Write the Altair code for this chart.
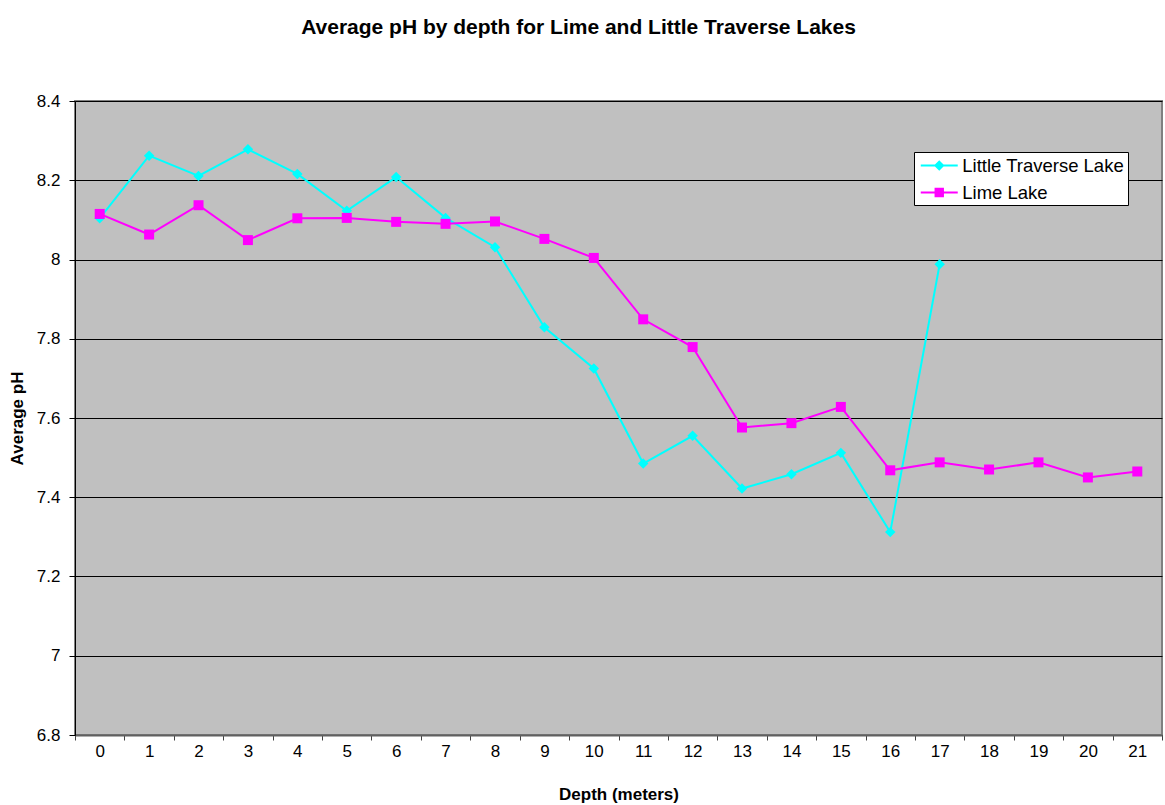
import altair as alt
import pandas as pd

# ---- data ----
depth_little = list(range(18))
ph_little = [8.104, 8.262, 8.211, 8.278, 8.216, 8.123, 8.208, 8.105, 8.031,
             7.829, 7.725, 7.485, 7.555, 7.422, 7.458, 7.512, 7.312, 7.988]
depth_lime = list(range(22))
ph_lime = [8.115, 8.063, 8.137, 8.049, 8.104, 8.105, 8.095, 8.090, 8.096,
           8.052, 8.004, 7.849, 7.779, 7.576, 7.587, 7.628, 7.468, 7.488,
           7.470, 7.488, 7.450, 7.465]
series_names = ["Little Traverse Lake", "Lime Lake"]
series_colors = ["#00FFFF", "#FF00FF"]
y_ticks = [6.8, 7.0, 7.2, 7.4, 7.6, 7.8, 8.0, 8.2, 8.4]
x_edges = [-0.5, 0.5, 1.5, 2.5, 3.5, 4.5, 5.5, 6.5, 7.5, 8.5, 9.5, 10.5,
           11.5, 12.5, 13.5, 14.5, 15.5, 16.5, 17.5, 18.5, 19.5, 20.5, 21.5]

df_little = pd.DataFrame({"depth": depth_little, "ph": ph_little, "series": series_names[0]})
df_lime = pd.DataFrame({"depth": depth_lime, "ph": ph_lime, "series": series_names[1]})
df = pd.concat([df_little, df_lime], ignore_index=True)

# legend symbols: a line segment with a (stroke-filled) marker on it
def diamond_path(rs):
    return "M-2,0H2" + "".join(f"M0,-{r}L{r},0L0,{r}L-{r},0Z" for r in rs)

def square_path(rs):
    return "M-2,0H2" + "".join(f"M-{r},-{r}H{r}V{r}H-{r}Z" for r in rs)

legend_shapes = [diamond_path([0.42, 0.3, 0.18, 0.06]),
                 square_path([0.4, 0.28, 0.16, 0.04])]

FONT = "Liberation Sans"
W, H = 1087, 634
step = W / 22.0

x_enc = alt.X(
    "depth:Q",
    scale=alt.Scale(domain=[-0.5, 21.5], nice=False, zero=False),
    axis=alt.Axis(
        values=x_edges,
        labelExpr="datum.value < 21 ? format(datum.value + 0.5, 'd') : ''",
        labelOffset=step / 2,
        labelFlush=False, labelBound=False, labelOverlap=False,
        labelFont=FONT, labelFontSize=17, labelColor="black", labelPadding=3,
        tickSize=5, tickColor="#404040", domainColor="#606060", domainWidth=2,
        grid=False,
        title="Depth (meters)", titleFont=FONT, titleFontSize=17,
        titleFontWeight="bold", titleColor="black", titlePadding=27,
    ),
)
y_enc = alt.Y(
    "ph:Q",
    scale=alt.Scale(domain=[6.8, 8.4], nice=False, zero=False),
    axis=alt.Axis(
        values=y_ticks, format="~g",
        grid=True, gridColor="black", gridWidth=1,
        domainColor="black", domainWidth=1, tickColor="black", tickSize=6,
        labelFont=FONT, labelFontSize=17, labelColor="black", labelPadding=9,
        title="Average pH", titleFont=FONT, titleFontSize=17,
        titleFontWeight="bold", titleColor="black", titlePadding=10,
    ),
)

leg = alt.Legend(
    title=None, orient="none", legendX=839, legendY=51,
    fillColor="white", strokeColor="black", padding=3,
    symbolOffset=11.75, labelOffset=12.5, rowPadding=7,
    labelFont=FONT, labelFontSize=18.5, labelColor="black", labelLimit=400,
    symbolSize=342, symbolStrokeWidth=2, symbolOpacity=1,
)

color_scale = alt.Scale(domain=series_names, range=series_colors)
shape_scale = alt.Scale(domain=series_names, range=legend_shapes)

# invisible layer that only drives the legend (line + marker symbols)
legend_layer = alt.Chart(df).mark_point(
    filled=False, size=342, strokeWidth=2, opacity=0
).encode(
    x=x_enc, y=y_enc,
    color=alt.Color("series:N", scale=color_scale, legend=leg),
    shape=alt.Shape("series:N", scale=shape_scale, legend=leg),
)

lines = alt.Chart(df).mark_line(strokeWidth=2).encode(
    x=x_enc, y=y_enc,
    color=alt.Color("series:N", scale=color_scale, legend=leg),
)

pts_little = alt.Chart(df_little).mark_point(
    filled=True, size=110, opacity=1, shape="diamond", fill=series_colors[0]
).encode(x=x_enc, y=y_enc)

pts_lime = alt.Chart(df_lime).mark_point(
    filled=True, size=100, opacity=1, shape="square", fill=series_colors[1]
).encode(x=x_enc, y=y_enc)

chart = alt.layer(legend_layer, lines, pts_little, pts_lime).properties(
    width=W, height=H,
    autosize=alt.AutoSizeParams(type="none"),
    padding={"left": 75, "top": 101, "right": 3, "bottom": 70},
    background="white",
    title=alt.TitleParams(
        "Average pH by depth for Lime and Little Traverse Lakes",
        font=FONT, fontSize=21, fontWeight="bold", color="black",
        anchor="middle", offset=54, dx=-40,
    ),
).configure_view(
    fill="#C0C0C0", stroke="#808080", strokeWidth=2,
)

chart.save("out.html", embed_options={"renderer": "svg", "actions": False})
